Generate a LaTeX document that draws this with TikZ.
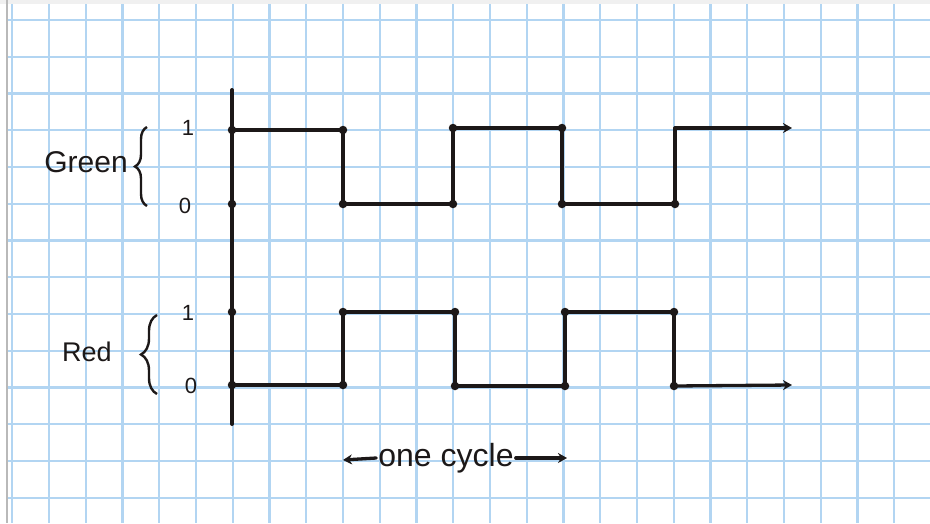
\documentclass[tikz,border=0pt]{standalone}
\usepackage{fontspec}
\setmainfont{Liberation Sans}
\usetikzlibrary{decorations.pathreplacing,arrows.meta}
\definecolor{gridblue}{RGB}{178,213,242}
\definecolor{ink}{RGB}{28,24,24}
\begin{document}
\begin{tikzpicture}[x=1pt,y=-1pt,
  gridline/.style={gridblue,line width=2.4pt},
  wave/.style={ink,line width=3.3pt,line join=round,line cap=round},
  axisline/.style={ink,line width=4pt,line cap=round},
  dotmark/.style={circle,fill=ink,inner sep=0pt,minimum size=8.5pt},
  lvl/.style={font=\fontsize{22}{22}\selectfont,text=ink,inner sep=1pt},
  lbl/.style={text=ink,inner sep=2pt},
  bracemark/.style={ink,line width=2.4pt,decorate},
  tip/.style={-{Stealth[length=9pt,width=10pt]}}]
% paper
\fill[white] (0,0) rectangle (930,523);
\useasboundingbox (0,0) rectangle (930,523);
\fill[gray!12] (0,0) rectangle (930,4);
\foreach \i in {0,...,25} \draw[gridline] ({12.25+36.75*\i},4) -- ({12.25+36.75*\i},523);
\foreach \j in {0,...,13} \draw[gridline] (8,{20+36.75*\j}) -- (930,{20+36.75*\j});
\draw[gray!55,line width=2pt] (7,0) -- (7,523);
% axis
\coordinate (axtop) at (232,90);
\coordinate (axbot) at (232,424);
\draw[axisline] (axtop) -- (axbot);
% green waveform
\coordinate (ga) at (232,130);
\coordinate (gb) at (343,130);
\coordinate (gc) at (343,204);
\coordinate (gd) at (453,204);
\coordinate (ge) at (453,128);
\coordinate (gf) at (562,128);
\coordinate (gg) at (562,204);
\coordinate (gh) at (675,204);
\coordinate (gi) at (675,128);
\coordinate (gj) at (792,128);
\coordinate (gz) at (232,204);
\draw[wave] (ga) -- (gb) -- (gc) -- (gd) -- (ge) -- (gf) -- (gg) -- (gh) -- (gi);
\draw[wave,tip] (gi) -- (gj);
\foreach \p in {ga,gb,gc,gd,ge,gf,gg,gh,gz} \node[dotmark] (d\p) at (\p) {};
% red waveform
\coordinate (ra) at (232,385);
\coordinate (rb) at (343,385);
\coordinate (rc) at (343,312);
\coordinate (rd) at (455,312);
\coordinate (re) at (455,386);
\coordinate (rf) at (565,386);
\coordinate (rg) at (565,312);
\coordinate (rh) at (674,312);
\coordinate (ri) at (674,386);
\coordinate (rj) at (792,385);
\coordinate (rz) at (232,312);
\draw[wave] (ra) -- (rb) -- (rc) -- (rd) -- (re) -- (rf) -- (rg) -- (rh) -- (ri);
\draw[wave,tip] (ri) -- (rj);
\foreach \p in {ra,rb,rc,rd,re,rf,rg,rh,ri,rz} \node[dotmark] (d\p) at (\p) {};
% level labels
\node[lvl] (gone) at (188,128) {1};
\node[lvl] (gzero) at (185,206) {0};
\node[lvl] (rone) at (188,313) {1};
\node[lvl] (rzero) at (191,386) {0};
% signal names and braces
\node[lbl,font=\fontsize{30}{30}\selectfont] (green) at (86,162) {Green};
\node[lbl,font=\fontsize{27}{27}\selectfont] (red) at (87,352) {Red};
\coordinate (gbrb) at (147,206);
\coordinate (gbrt) at (147,127);
\draw[bracemark,decoration={brace,amplitude=12pt}] (gbrb) -- (gbrt);
\coordinate (rbrb) at (157,394);
\coordinate (rbrt) at (157,315);
\draw[bracemark,decoration={brace,amplitude=16pt}] (rbrb) -- (rbrt);
% one cycle
\node[lbl,font=\fontsize{32}{32}\selectfont] (cyc) at (446,458) {one cycle};
\coordinate (cycl) at (343,460);
\coordinate (cycr) at (567,458);
\draw[wave,tip] (cyc.west) -- (cycl);
\draw[wave,tip] (cyc.east) -- (cycr);
\end{tikzpicture}
\end{document}
